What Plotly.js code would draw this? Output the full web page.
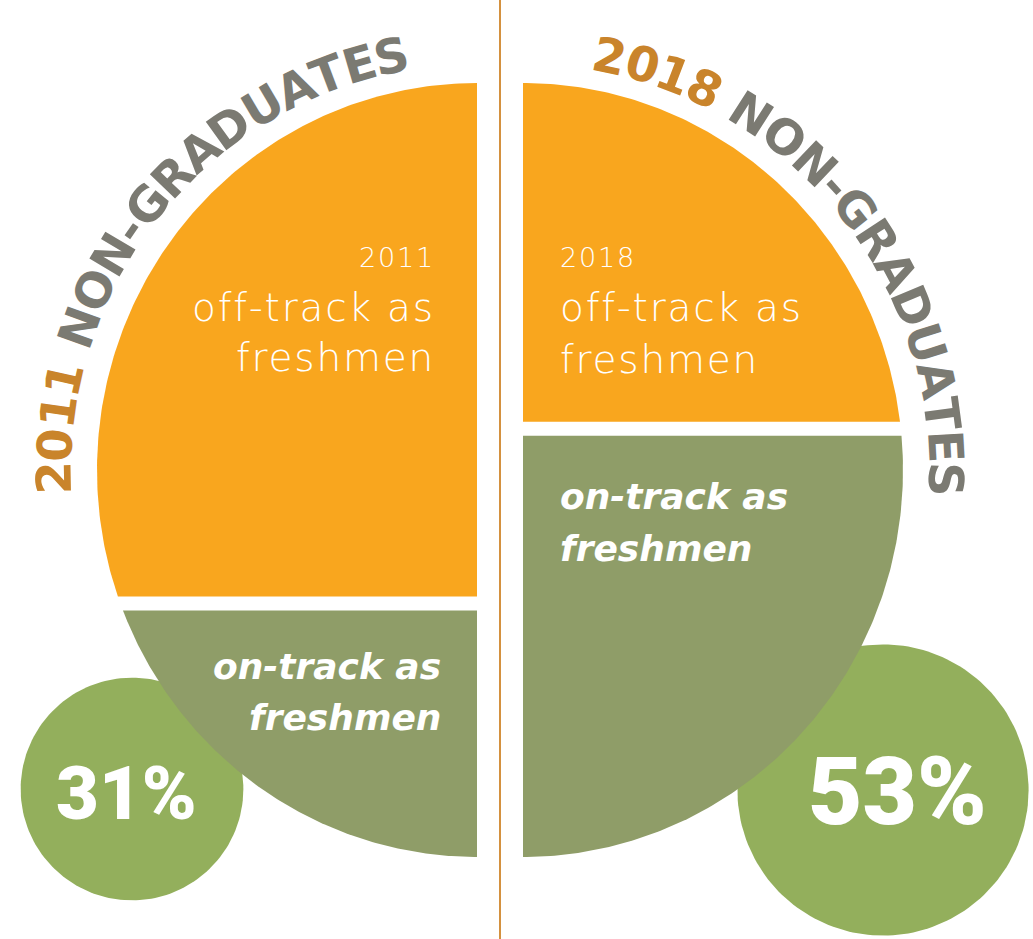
<!DOCTYPE html>
<html><head><meta charset="utf-8">
<script src="https://cdn.plot.ly/plotly-3.0.1.min.js"></script>
<style>
html,body{margin:0;padding:0;background:#fff;overflow:hidden}
#chart{width:1033px;height:939px}
text.annotation-text[style*="font-weight: 200"]{letter-spacing:1.8px}
</style>
</head><body><div id="chart"></div>
<script>
// ---- data ----
const years = ['2011', '2018'];
const onTrackPct = [31, 53];
const pctLabels = ['31%', '53%'];
const offTrackLines = ['off-track as', 'freshmen'];
const onTrackLines = ['on-track as', 'freshmen'];
const titleSuffix = 'NON-GRADUATES';

// ---- layout geometry (not data) ----
const W = 1033, H = 939;
const RX = 380, RY = 387, GAP = 14, PX_PER_PCT = 7.95, CIRCLE_K = 20;
const TITLE_R = 423, TITLE_SIZE = 48;
const pies = [
  {cx: 477, cy: 470, side: -1, titleStart: 183.4, circX: 132, circY: 789, pctSize: 74, pctX: 126, pctY: 793,
   labelX: 437, labelAnchor: 'right', yearY: 257, off1Y: 307, off2Y: 357, on1X: 443, on1Y: 666, on2Y: 717},
  {cx: 523, cy: 470, side: 1, titleStart: 80.4, circX: 883, circY: 790, pctSize: 94, pctX: 897, pctY: 792,
   labelX: 558, labelAnchor: 'left', yearY: 257, off1Y: 307, off2Y: 359, on1X: 558, on1Y: 496, on2Y: 548}
];
const ORANGE = '#f9a61e', PIEGREEN = '#8f9d68', CIRCGREEN = '#93af5c', GRAY = '#7b7a72', YEARCOL = '#c9842b';

function halfRegion(cx, cy, side, yTop, yBot) {
  const xs = [cx, cx], ys = [yTop, yBot];
  const p1 = Math.asin(Math.max(-1, Math.min(1, (yBot - cy) / RY)));
  const p0 = Math.asin(Math.max(-1, Math.min(1, (yTop - cy) / RY)));
  const N = 160;
  for (let i = 0; i <= N; i++) {
    const p = p1 + (p0 - p1) * i / N;
    xs.push(cx + side * RX * Math.cos(p));
    ys.push(cy + RY * Math.sin(p));
  }
  xs.push(cx); ys.push(yTop);
  return {xs, ys};
}
function circle(cx, cy, r) {
  const xs = [], ys = [];
  for (let i = 0; i <= 180; i++) {
    const a = 2 * Math.PI * i / 180;
    xs.push(cx + r * Math.cos(a)); ys.push(cy + r * Math.sin(a));
  }
  return {xs, ys};
}

const traces = [];
const annotations = [];
const ctx = document.createElement('canvas').getContext('2d');
ctx.font = 'bold ' + TITLE_SIZE + 'px "DejaVu Sans"';

years.forEach((yr, i) => {
  const P = pies[i];
  const pct = onTrackPct[i];
  // circle (area proportional to pct)
  const c = circle(P.circX, P.circY, CIRCLE_K * Math.sqrt(pct));
  traces.push({x: c.xs, y: c.ys, type: 'scatter', mode: 'lines', fill: 'toself',
    fillcolor: CIRCGREEN, line: {width: 0, color: CIRCGREEN}, hoverinfo: 'skip'});
});
years.forEach((yr, i) => {
  const P = pies[i];
  const pct = onTrackPct[i];
  const bottom = P.cy + RY, top = P.cy - RY;
  const greenTop = bottom - pct * PX_PER_PCT;
  const g = halfRegion(P.cx, P.cy, P.side, greenTop, bottom);
  traces.push({x: g.xs, y: g.ys, type: 'scatter', mode: 'lines', fill: 'toself',
    fillcolor: PIEGREEN, line: {width: 0, color: PIEGREEN}, hoverinfo: 'skip', name: yr + ' on-track'});
  const o = halfRegion(P.cx, P.cy, P.side, top, greenTop - GAP);
  traces.push({x: o.xs, y: o.ys, type: 'scatter', mode: 'lines', fill: 'toself',
    fillcolor: ORANGE, line: {width: 0, color: ORANGE}, hoverinfo: 'skip', name: yr + ' off-track'});

  // labels inside pie
  const light = {family: 'DejaVu Sans', weight: 200, color: '#ffffff'};
  annotations.push({x: P.labelX, y: P.yearY, xref: 'x', yref: 'y', text: yr, showarrow: false,
    xanchor: P.labelAnchor, yanchor: 'middle', font: Object.assign({size: 27}, light)});
  annotations.push({x: P.labelX, y: P.off1Y, xref: 'x', yref: 'y', text: offTrackLines[0], showarrow: false,
    xanchor: P.labelAnchor, yanchor: 'middle', font: Object.assign({size: 39}, light)});
  annotations.push({x: P.labelX, y: P.off2Y, xref: 'x', yref: 'y', text: offTrackLines[1], showarrow: false,
    xanchor: P.labelAnchor, yanchor: 'middle', font: Object.assign({size: 39}, light)});
  const ital = {family: 'DejaVu Sans', weight: 700, style: 'italic', color: '#ffffff', size: 36};
  annotations.push({x: P.on1X, y: P.on1Y, xref: 'x', yref: 'y', text: onTrackLines[0], showarrow: false,
    xanchor: P.labelAnchor, yanchor: 'middle', font: ital});
  annotations.push({x: P.on1X, y: P.on2Y, xref: 'x', yref: 'y', text: onTrackLines[1], showarrow: false,
    xanchor: P.labelAnchor, yanchor: 'middle', font: ital});
  // percentage
  annotations.push({x: P.pctX, y: P.pctY, xref: 'x', yref: 'y', text: pctLabels[i], showarrow: false,
    xanchor: 'center', yanchor: 'middle', font: {family: 'Roboto', weight: 900, size: P.pctSize, color: '#ffffff'}});

  // curved title
  const title = yr + ' ' + titleSuffix;
  let s = 0;
  for (let k = 0; k < title.length; k++) {
    const ch = title[k];
    const w = ctx.measureText(ch).width;
    const mid = s + w / 2;
    s += w;
    if (ch === ' ') continue;
    const th = P.titleStart * Math.PI / 180 - mid / TITLE_R;
    const x = P.cx + TITLE_R * Math.cos(th);
    const y = P.cy - TITLE_R * Math.sin(th);
    annotations.push({x: x, y: y, xref: 'x', yref: 'y', text: ch, showarrow: false,
      xanchor: 'center', yanchor: 'middle', textangle: 90 - th * 180 / Math.PI,
      font: {family: 'DejaVu Sans', weight: 700, size: TITLE_SIZE, color: k < yr.length ? YEARCOL : GRAY}});
  }
});

const layout = {
  width: W, height: H, margin: {l: 0, r: 0, t: 0, b: 0},
  paper_bgcolor: '#ffffff', plot_bgcolor: '#ffffff', showlegend: false,
  xaxis: {range: [0, W], visible: false, fixedrange: true},
  yaxis: {range: [H, 0], visible: false, fixedrange: true},
  shapes: [{type: 'line', xref: 'paper', yref: 'paper', x0: 500 / W, x1: 500 / W, y0: 0, y1: 1,
    line: {color: '#d4913f', width: 2}}],
  annotations: annotations
};
Plotly.newPlot('chart', traces, layout, {staticPlot: true, displayModeBar: false});
</script>
</body></html>
